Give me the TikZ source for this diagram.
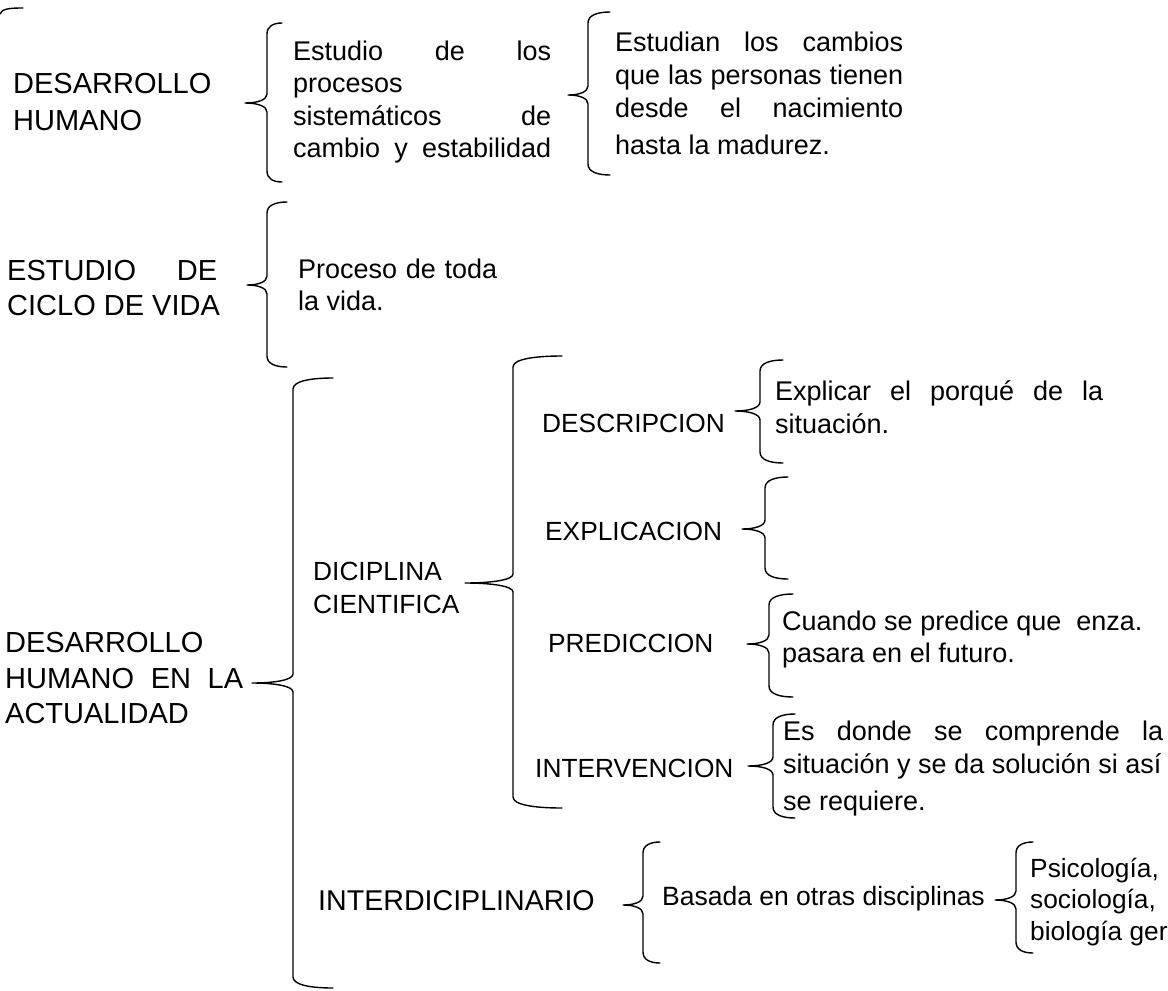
\documentclass[tikz,border=0pt]{standalone}
\usepackage{fontspec}
\setmainfont{Liberation Sans}
\tikzset{
 big/.style={anchor=base west,inner sep=0pt,font=\fontsize{29}{35}\selectfont},
 mid/.style={anchor=base west,inner sep=0pt,font=\fontsize{26.3}{32}\selectfont},
 txt/.style={anchor=base west,inner sep=0pt,font=\fontsize{27}{33}\selectfont},
 br/.style={line width=1.4pt,line cap=round,line join=round}
}
% #1 vertical x, #2 top y, #3 bottom y, #4 tip x, #5 tip y, #6 hook end x
\newcommand\cbr[6]{%
\draw[br] (#6,#2) .. controls ({#1+0.45*(#6-#1)},#2) and (#1,{#2+3}) .. (#1,{#2+11})
 -- (#1,{#5-9}) .. controls (#1,{#5-3}) and ({#1-0.45*(#1-#4)},#5) .. (#4,#5)
 .. controls ({#1-0.45*(#1-#4)},#5) and (#1,{#5+3}) .. (#1,{#5+9})
 -- (#1,{#3-11}) .. controls (#1,{#3-3}) and ({#1+0.45*(#6-#1)},#3) .. (#6,#3);}
\begin{document}
\begin{tikzpicture}[x=1pt,y=-1pt]
\useasboundingbox (0,0) rectangle (1168,991);
% fragment at top left
\draw[br] (0,14) .. controls (2,9) and (8,8) .. (23,8);

% ---- DESARROLLO HUMANO
\node[big] (dh1) at (13,93) {DESARROLLO};
\node[big] (dh2) at (13,130) {HUMANO};
\cbr{267}{23}{182}{245}{103}{282}
\node[txt] (es1) at (293,60) {\makebox[258pt][s]{Estudio de los}};
\node[txt] (es2) at (293,92) {procesos};
\node[txt] (es3) at (293,125) {\makebox[258pt][s]{sistemáticos de}};
\node[txt] (es4) at (293,157) {\makebox[258pt][s]{cambio y estabilidad}};
\cbr{588}{12}{175}{568}{95}{610}
\node[txt] (eu1) at (615,51) {\makebox[288pt][s]{Estudian los cambios}};
\node[txt] (eu2) at (615,84) {\makebox[288pt][s]{que las personas tienen}};
\node[txt] (eu3) at (615,117) {\makebox[288pt][s]{desde el nacimiento}};
\node[txt] (eu4) at (615,154) {hasta la madurez.};

% ---- ESTUDIO DE CICLO DE VIDA
\node[big] (cv1) at (7,280) {\makebox[210pt][s]{ESTUDIO DE}};
\node[big] (cv2) at (7,315) {CICLO DE VIDA};
\cbr{267}{202}{367}{247}{285}{287}
\node[txt] (pv1) at (298,278) {\makebox[199pt][s]{Proceso de toda}};
\node[txt] (pv2) at (298,310) {la vida.};

% ---- DESARROLLO HUMANO EN LA ACTUALIDAD
\node[big] (da1) at (5,652) {DESARROLLO};
\node[big] (da2) at (5,688) {\makebox[238pt][s]{HUMANO EN LA}};
\node[big] (da3) at (5,723) {ACTUALIDAD};
\cbr{293}{378}{988}{252}{683}{333}

\node[mid] (dc1) at (313,580) {DICIPLINA};
\node[mid] (dc2) at (313,613) {CIENTIFICA};
\cbr{513}{356}{808}{465}{583}{562}

\node[mid] (de) at (542,432) {DESCRIPCION};
\cbr{760}{360}{463}{735}{411}{783}
\node[txt] (de1) at (775,400) {\makebox[328pt][s]{Explicar el porqué de la}};
\node[txt] (de2) at (775,433) {situación.};

\node[mid] (ex) at (545,540) {EXPLICACION};
\cbr{765}{477}{579}{742}{529}{788}

\node[mid] (pr) at (548,652) {PREDICCION};
\cbr{769}{594}{697}{747}{644}{793}
\node[txt] (pr1) at (782,630) {Cuando se predice que\ \ enza.};
\node[txt] (pr2) at (782,662) {pasara en el futuro.};

\node[mid] (in) at (535,777) {INTERVENCION};
\cbr{773}{714}{818}{748}{766}{795}
\node[txt] (in1) at (783,740) {\makebox[380pt][s]{Es donde se comprende la}};
\node[txt] (in2) at (783,773) {situación y se da solución si así};
\node[txt] (in3) at (783,810) {se requiere.};

\node[big,font=\fontsize{28.6}{34}\selectfont] (id) at (318,910) {INTERDICIPLINARIO};
\cbr{643}{842}{963}{623}{905}{660}
\node[mid,font=\fontsize{26.5}{32}\selectfont] (ba) at (662,905) {Basada en otras disciplinas};
\cbr{1016}{842}{953}{995}{900}{1033}
\node[mid,font=\fontsize{26.3}{32}\selectfont] (ps1) at (1030,877) {Psicología,};
\node[mid,font=\fontsize{26.3}{32}\selectfont] (ps2) at (1030,908) {sociología,};
\node[mid,font=\fontsize{26.3}{32}\selectfont] (ps3) at (1030,940) {biología ger};
\end{tikzpicture}
\end{document}
